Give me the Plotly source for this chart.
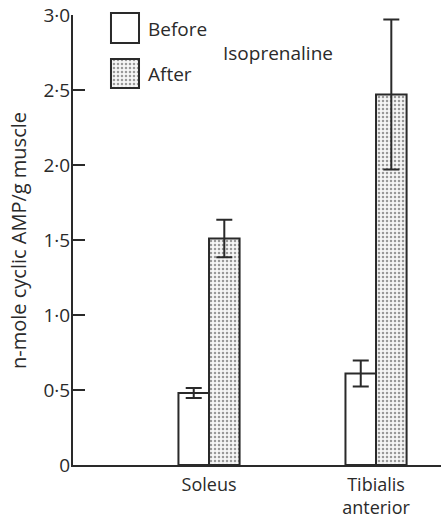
import plotly.graph_objects as go

# ---- data ----
categories = ["Soleus", "Tibialis<br>anterior"]
before_vals = [0.48, 0.61]
before_err = [0.033, 0.087]
after_vals = [1.51, 2.47]
after_err = [0.125, 0.50]
y_tickvals = [0, 0.5, 1.0, 1.5, 2.0, 2.5, 3.0]
y_ticktext = ["0", "0·5", "1·0", "1·5", "2·0", "2·5", "3·0"]
y_title = "n-mole cyclic AMP/g muscle"
legend_names = ["Before", "After"]
legend_base = [0.6118, 0.0824]
legend_height = [0.3529, 0.3411]

FONT = "Open Sans"
INK = "#2a2a2a"
FS = 19

W, H = 441, 518

fig = go.Figure()

fig.add_trace(go.Bar(
    x=categories, y=before_vals, name="Before",
    marker=dict(color="white", line=dict(color=INK, width=2)),
    error_y=dict(type="data", array=before_err, color=INK, thickness=2, width=8),
    showlegend=False,
))
fig.add_trace(go.Bar(
    x=categories, y=after_vals, name="After",
    marker=dict(color="white", line=dict(color=INK, width=2),
                pattern=dict(shape=".", fgcolor="#999999", bgcolor="#f6f6f6",
                             size=4, solidity=0.3)),
    error_y=dict(type="data", array=after_err, color=INK, thickness=2, width=8),
    showlegend=False,
))

# legend boxes drawn as bars on an overlay axis
fig.add_trace(go.Bar(
    x=[0.5], y=[legend_height[0]], base=[legend_base[0]], width=1, offset=-0.5,
    marker=dict(color="white", line=dict(color=INK, width=2)),
    xaxis="x2", yaxis="y2", showlegend=False, hoverinfo="skip",
))
fig.add_trace(go.Bar(
    x=[0.5], y=[legend_height[1]], base=[legend_base[1]], width=1, offset=-0.5,
    marker=dict(color="white", line=dict(color=INK, width=2),
                pattern=dict(shape=".", fgcolor="#999999", bgcolor="#f6f6f6",
                             size=4, solidity=0.3)),
    xaxis="x2", yaxis="y2", showlegend=False, hoverinfo="skip",
))

fig.update_layout(
    template="none",
    width=W, height=H,
    margin=dict(l=73, r=0, t=10, b=53, autoexpand=False),
    paper_bgcolor="white", plot_bgcolor="white",
    barmode="group", bargap=0.634, bargroupgap=0,
    font=dict(family=FONT, color=INK, size=FS),
    xaxis=dict(
        type="category", range=[-0.8144, 1.389], automargin=False,
        showline=True, linecolor=INK, linewidth=2,
        ticks="", showgrid=False, zeroline=False,
        tickfont=dict(size=18, family=FONT, color=INK),
        ticklabelstandoff=2, ticklabeloverflow="allow",
    ),
    yaxis=dict(
        domain=[0, 0.98901], range=[0, 3.0], automargin=False,
        showline=True, linecolor=INK, linewidth=2,
        ticks="inside", ticklen=12, tickwidth=2, tickcolor=INK,
        tickvals=y_tickvals, ticktext=y_ticktext,
        showgrid=False, zeroline=False,
        tickfont=dict(size=FS, family=FONT, color=INK),
        ticklabelstandoff=-3, ticklabeloverflow="allow",
    ),
    xaxis2=dict(domain=[0.0842, 0.1984], range=[-0.25, 1.25], visible=False,
                anchor="y2", fixedrange=True),
    yaxis2=dict(domain=[0.8132, 1.0], range=[0, 1], visible=False,
                anchor="x2", fixedrange=True),
    annotations=[
        dict(text=y_title, xref="paper", yref="paper", textangle=-90,
             x=(18 - 73) / 368, y=(465 - 241) / 455, xanchor="center", yanchor="middle",
             showarrow=False, font=dict(size=20, family=FONT, color=INK)),
        dict(text=legend_names[0], xref="paper", yref="paper",
             x=(146 - 73) / 368, y=(465 - 29) / 455, xanchor="left", yanchor="middle",
             showarrow=False, font=dict(size=FS, family=FONT, color=INK)),
        dict(text=legend_names[1], xref="paper", yref="paper",
             x=(146 - 73) / 368, y=(465 - 74) / 455, xanchor="left", yanchor="middle",
             showarrow=False, font=dict(size=FS, family=FONT, color=INK)),
        dict(text="Isoprenaline", xref="paper", yref="paper",
             x=(277.5 - 73) / 368, y=(465 - 53) / 455, xanchor="center", yanchor="middle",
             showarrow=False, font=dict(size=FS, family=FONT, color=INK)),
    ],
)

# remove the page's default 8px body margin so the figure fills the window exactly
fig.write_html("out.html",
               config={"displayModeBar": False, "staticPlot": True},
               post_script="document.body.style.margin='0';document.body.style.overflow='hidden';")
